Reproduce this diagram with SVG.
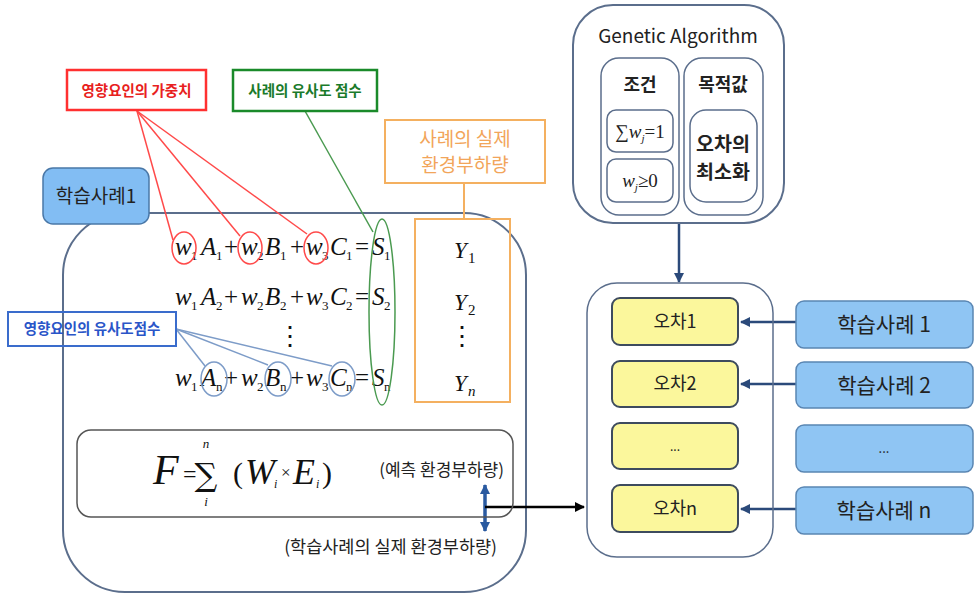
<svg xmlns="http://www.w3.org/2000/svg" width="976" height="595" viewBox="0 0 976 595">
<style>
.kr{font-family:"Noto Sans CJK KR","Noto Sans",sans-serif;}
.b{font-weight:bold;}
.eq{font-family:"Liberation Serif",serif;font-style:italic;font-size:25px;fill:#111;}
.sb{font-size:13px;font-style:normal;}
.op{font-style:normal;}
.frame{fill:none;stroke:#5b6e8c;stroke-width:2;}
.yel{fill:#fbf79c;stroke:#3d4b5e;stroke-width:2;}
.blu{fill:#8fc5f3;stroke:#5a86b3;stroke-width:1.5;}
.lbl{font-family:"Noto Sans CJK KR","Noto Sans",sans-serif;fill:#222;text-anchor:middle;}
.conn{stroke:#2b4a7a;stroke-width:2.5;fill:none;}
.fm{font-family:"Liberation Serif",serif;fill:#111;}
</style>
<defs>
<marker id="ah" viewBox="0 0 10 10" refX="9" refY="5" markerWidth="4" markerHeight="4" orient="auto-start-reverse"><path d="M0,0 L10,5 L0,10 z" fill="#2b4a7a"/></marker>
<marker id="ahk" viewBox="0 0 10 10" refX="9" refY="5" markerWidth="4" markerHeight="4" orient="auto-start-reverse"><path d="M0,0 L10,5 L0,10 z" fill="#000"/></marker>
<marker id="ahb" viewBox="0 0 10 10" refX="9" refY="5" markerWidth="3" markerHeight="3" orient="auto-start-reverse"><path d="M0,0 L10,5 L0,10 z" fill="#2a5aa0"/></marker>
</defs>
<rect width="976" height="595" fill="#fff"/>

<g id="case-container">
<rect x="63" y="213" width="463" height="379" rx="62" class="frame"/>
</g>

<g id="case1-label">
<rect x="43" y="168" width="106" height="56" rx="10" fill="#82bdf3" stroke="#4a78a8" stroke-width="1.5"/>
<text x="96" y="203" class="lbl" font-size="19">학습사례1</text>
</g>

<g id="connectors">
<g stroke="#ff4a4a" stroke-width="1.5" fill="none">
<line x1="137" y1="111" x2="173" y2="240"/>
<line x1="137" y1="111" x2="240" y2="236"/>
<line x1="137" y1="111" x2="307" y2="234"/>
</g>
<line x1="305" y1="111" x2="373" y2="232" stroke="#4a9a50" stroke-width="1.5"/>
<g stroke="#7d9cc8" stroke-width="1.5" fill="none">
<line x1="176" y1="329" x2="205" y2="366"/>
<line x1="176" y1="329" x2="268" y2="365"/>
<line x1="176" y1="329" x2="332" y2="366"/>
</g>
<line x1="464" y1="183" x2="464" y2="219" stroke="#f4b060" stroke-width="2"/>
<line x1="485" y1="485" x2="485" y2="531" stroke="#2a5aa0" stroke-width="3.5" marker-start="url(#ahb)" marker-end="url(#ahb)"/>
<line x1="485" y1="507" x2="584" y2="507" stroke="#000" stroke-width="2.5" marker-end="url(#ahk)"/>
<line x1="679" y1="223" x2="679" y2="282" class="conn" marker-end="url(#ah)"/>
<line x1="796" y1="322" x2="741" y2="322" class="conn" marker-end="url(#ah)"/>
<line x1="796" y1="384" x2="741" y2="384" class="conn" marker-end="url(#ah)"/>
<line x1="796" y1="509" x2="741" y2="509" class="conn" marker-end="url(#ah)"/>
</g>

<g id="weight-label">
<rect x="67" y="70" width="139" height="40" fill="#fff" stroke="#ff3030" stroke-width="2.5"/>
<text x="136.5" y="96" class="kr b" font-size="14.5" fill="#e82020" text-anchor="middle">영향요인의 가중치</text>
</g>
<g id="similarity-label">
<rect x="233" y="70" width="144" height="41" fill="#fff" stroke="#1a8a2a" stroke-width="2.5"/>
<text x="305" y="96" class="kr b" font-size="14.5" fill="#1a7a2a" text-anchor="middle">사례의 유사도 점수</text>
</g>
<g id="actual-label">
<rect x="385" y="120" width="160" height="63" fill="#fff" stroke="#f4b060" stroke-width="2"/>
<text x="465" y="146" class="kr" font-size="19" fill="#f2a55a" text-anchor="middle">사례의 실제</text>
<text x="465" y="172" class="kr" font-size="19" fill="#f2a55a" text-anchor="middle">환경부하량</text>
</g>
<g id="factor-label">
<rect x="8" y="312" width="168" height="34" fill="none" stroke="#3a6ccc" stroke-width="2"/>
<text x="92" y="334" class="kr b" font-size="14.5" fill="#2a55c8" text-anchor="middle">영향요인의 유사도점수</text>
</g>

<g id="equations">
<text class="eq" y="255"><tspan x="175">w</tspan><tspan x="191" dy="5" class="sb">1</tspan><tspan x="201" dy="-5">A</tspan><tspan x="216" dy="5" class="sb">1</tspan><tspan x="224" dy="-5" class="op">+</tspan><tspan x="241">w</tspan><tspan x="257" dy="5" class="sb">2</tspan><tspan x="265" dy="-5">B</tspan><tspan x="280" dy="5" class="sb">1</tspan><tspan x="290" dy="-5" class="op">+</tspan><tspan x="306">w</tspan><tspan x="322" dy="5" class="sb">3</tspan><tspan x="330" dy="-5">C</tspan><tspan x="346" dy="5" class="sb">1</tspan><tspan x="355" dy="-5" class="op">=</tspan><tspan x="372">S</tspan><tspan x="384" dy="5" class="sb">1</tspan></text>
<text class="eq" y="305"><tspan x="175">w</tspan><tspan x="191" dy="5" class="sb">1</tspan><tspan x="201" dy="-5">A</tspan><tspan x="216" dy="5" class="sb">2</tspan><tspan x="224" dy="-5" class="op">+</tspan><tspan x="241">w</tspan><tspan x="257" dy="5" class="sb">2</tspan><tspan x="265" dy="-5">B</tspan><tspan x="280" dy="5" class="sb">2</tspan><tspan x="290" dy="-5" class="op">+</tspan><tspan x="306">w</tspan><tspan x="322" dy="5" class="sb">3</tspan><tspan x="330" dy="-5">C</tspan><tspan x="346" dy="5" class="sb">2</tspan><tspan x="355" dy="-5" class="op">=</tspan><tspan x="372">S</tspan><tspan x="384" dy="5" class="sb">2</tspan></text>
<text x="290" y="345" font-family="DejaVu Serif,serif" font-size="26" text-anchor="middle" fill="#111">⋮</text>
<text class="eq" y="386"><tspan x="175">w</tspan><tspan x="191" dy="5" class="sb">1</tspan><tspan x="201" dy="-5">A</tspan><tspan x="216" dy="5" class="sb">n</tspan><tspan x="224" dy="-5" class="op">+</tspan><tspan x="241">w</tspan><tspan x="257" dy="5" class="sb">2</tspan><tspan x="265" dy="-5">B</tspan><tspan x="280" dy="5" class="sb">n</tspan><tspan x="290" dy="-5" class="op">+</tspan><tspan x="306">w</tspan><tspan x="322" dy="5" class="sb">3</tspan><tspan x="330" dy="-5">C</tspan><tspan x="346" dy="5" class="sb">n</tspan><tspan x="355" dy="-5" class="op">=</tspan><tspan x="372">S</tspan><tspan x="384" dy="5" class="sb">n</tspan></text>
<g fill="none" stroke="#ff4a4a" stroke-width="1.5">
<ellipse cx="184" cy="248" rx="12" ry="16"/>
<ellipse cx="250" cy="248" rx="12" ry="16"/>
<ellipse cx="316" cy="248" rx="12" ry="16"/>
</g>
<g fill="none" stroke="#7d9cc8" stroke-width="1.5">
<ellipse cx="214" cy="379" rx="13" ry="17"/>
<ellipse cx="278" cy="379" rx="13" ry="17"/>
<ellipse cx="342" cy="379" rx="13" ry="17"/>
</g>
<ellipse cx="382" cy="312" rx="13" ry="93" fill="none" stroke="#4a9a50" stroke-width="1.5"/>
</g>

<g id="actual-values">
<rect x="415" y="219" width="95" height="183" fill="none" stroke="#f4b060" stroke-width="2"/>
<text class="eq" y="258"><tspan x="454" font-size="23">Y</tspan><tspan x="468" dy="5" font-size="15" font-style="normal">1</tspan></text>
<text class="eq" y="310"><tspan x="454" font-size="23">Y</tspan><tspan x="468" dy="5" font-size="15" font-style="normal">2</tspan></text>
<text x="462" y="345" font-family="DejaVu Serif,serif" font-size="26" text-anchor="middle" fill="#111">⋮</text>
<text class="eq" y="391"><tspan x="454" font-size="23">Y</tspan><tspan x="468" dy="5" font-size="15">n</tspan></text>
</g>

<g id="formula">
<rect x="77" y="430" width="436" height="87" rx="14" fill="none" stroke="#555" stroke-width="1.5"/>
<text x="153" y="484" class="fm" font-style="italic" font-size="42">F</text>
<text x="183" y="482" class="fm" font-size="24">=</text>
<text x="206" y="486" font-family="DejaVu Serif,serif" font-size="32" text-anchor="middle" fill="#111">∑</text>
<text x="206" y="448" class="fm" font-style="italic" font-size="13" text-anchor="middle">n</text>
<text x="206" y="506" class="fm" font-style="italic" font-size="13" text-anchor="middle">i</text>
<text x="233" y="483" class="fm" font-size="30">(</text>
<text x="245" y="484" class="fm" font-style="italic" font-size="36">W</text>
<text x="274" y="488" class="fm" font-style="italic" font-size="12">i</text>
<text x="281" y="478" class="fm" font-size="17">×</text>
<text x="293" y="484" class="fm" font-style="italic" font-size="36">E</text>
<text x="316" y="488" class="fm" font-style="italic" font-size="12">i</text>
<text x="322" y="483" class="fm" font-size="30">)</text>
<text x="504" y="476" class="kr" font-size="17" fill="#222" text-anchor="end">(예측 환경부하량)</text>
</g>

<text x="497" y="553" class="kr" font-size="17.5" fill="#222" text-anchor="end">(학습사례의 실제 환경부하량)</text>

<g id="ga">
<rect x="573" y="5" width="211" height="218" rx="40" fill="#fff" class="frame"/>
<text x="678" y="43" class="lbl" font-size="19">Genetic Algorithm</text>
</g>
<g id="ga-condition">
<rect x="601" y="58" width="78" height="157" rx="18" fill="none" stroke="#5b6e8c" stroke-width="1.5"/>
<text x="640" y="91" class="lbl b" font-size="18">조건</text>
<rect x="607" y="110" width="66" height="42" rx="9" fill="none" stroke="#5b6e8c" stroke-width="1.5"/>
<text x="640" y="138" font-family="Liberation Serif,serif" font-size="19" fill="#222" text-anchor="middle">∑<tspan font-style="italic">w</tspan><tspan font-size="11" dy="4" font-style="italic">j</tspan><tspan dy="-4">=1</tspan></text>
<rect x="607" y="159" width="66" height="43" rx="9" fill="none" stroke="#5b6e8c" stroke-width="1.5"/>
<text x="640" y="187" font-family="Liberation Serif,serif" font-size="19" fill="#222" text-anchor="middle"><tspan font-style="italic">w</tspan><tspan font-size="11" dy="4" font-style="italic">j</tspan><tspan dy="-4">≥0</tspan></text>
</g>
<g id="ga-objective">
<rect x="684" y="58" width="79" height="157" rx="18" fill="none" stroke="#5b6e8c" stroke-width="1.5"/>
<text x="723" y="91" class="lbl b" font-size="18">목적값</text>
<rect x="690" y="110" width="67" height="92" rx="16" fill="none" stroke="#5b6e8c" stroke-width="1.5"/>
<text x="723" y="151" class="lbl b" font-size="19.5">오차의</text>
<text x="723" y="179" class="lbl b" font-size="19.5">최소화</text>
</g>

<g id="error-container">
<rect x="587" y="283" width="186" height="274" rx="30" fill="none" stroke="#5b6e8c" stroke-width="1.5"/>
</g>
<g id="error1"><rect x="612" y="298" width="126" height="47" rx="8" class="yel"/><text x="675" y="328" class="lbl" font-size="18">오차1</text></g>
<g id="error2"><rect x="612" y="361" width="126" height="46" rx="8" class="yel"/><text x="675" y="390" class="lbl" font-size="18">오차2</text></g>
<g id="error-dots"><rect x="612" y="423" width="126" height="46" rx="8" class="yel"/><text x="675" y="451" class="lbl" font-size="12">...</text></g>
<g id="errorn"><rect x="612" y="485" width="126" height="47" rx="8" class="yel"/><text x="675" y="515" class="lbl" font-size="18">오차n</text></g>

<g id="case-1"><rect x="796" y="301" width="177" height="47" rx="8" class="blu"/><text x="884" y="332" class="lbl" font-size="21">학습사례 1</text></g>
<g id="case-2"><rect x="796" y="362" width="177" height="46" rx="8" class="blu"/><text x="884" y="393" class="lbl" font-size="21">학습사례 2</text></g>
<g id="case-dots"><rect x="796" y="425" width="177" height="47" rx="8" class="blu"/><text x="884" y="453" class="lbl" font-size="13">...</text></g>
<g id="case-n"><rect x="796" y="487" width="177" height="47" rx="8" class="blu"/><text x="884" y="518" class="lbl" font-size="21">학습사례 n</text></g>
</svg>
